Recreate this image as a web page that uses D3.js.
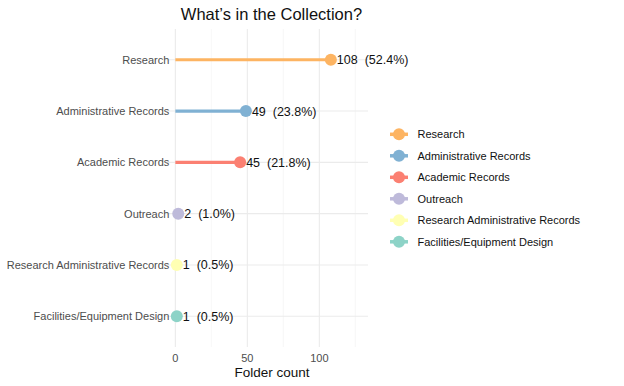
<!DOCTYPE html>
<html><head><meta charset="utf-8">
<script src="https://cdn.jsdelivr.net/npm/d3@7"></script>
<style>body{margin:0;background:#fff;} text{font-family:"Liberation Sans",Arial,sans-serif;}</style>
</head><body><svg id="c" width="624" height="386"></svg>
<script>
const categories = ["Research","Administrative Records","Academic Records","Outreach","Research Administrative Records","Facilities/Equipment Design"];
const counts = [108,49,45,2,1,1];
const percents = ["52.4%","23.8%","21.8%","1.0%","0.5%","0.5%"];
const colors = ["#FDB462","#80B1D3","#FB8072","#BEBADA","#FFFFB3","#8DD3C7"];
const xTicks = [0,50,100];
const xMinor = [25,75,125];

(function(){
const svg = d3.select("#c");
const pL = 166, pR = 368, pT = 29, pB = 347;
const x = d3.scaleLinear().domain([-6.5,133.8]).range([pL,pR]);
const y = d3.scalePoint().domain(categories).range([pT,pB]).padding(0.6);

// grid
const g = svg.append("g");
g.selectAll(".vmin").data(xMinor).join("line")
  .attr("x1",d=>x(d)).attr("x2",d=>x(d)).attr("y1",pT).attr("y2",pB)
  .attr("stroke","#f2f2f2").attr("stroke-width",0.6);
g.selectAll(".vmaj").data(xTicks).join("line")
  .attr("x1",d=>x(d)).attr("x2",d=>x(d)).attr("y1",pT).attr("y2",pB)
  .attr("stroke","#ebebeb").attr("stroke-width",1.1);
g.selectAll(".h").data(categories).join("line")
  .attr("x1",pL).attr("x2",pR).attr("y1",d=>y(d)).attr("y2",d=>y(d))
  .attr("stroke","#ebebeb").attr("stroke-width",1.1);

// segments
svg.selectAll(".seg").data(categories).join("line")
  .attr("x1",x(0)).attr("x2",(d,i)=>x(counts[i]))
  .attr("y1",d=>y(d)).attr("y2",d=>y(d))
  .attr("stroke",(d,i)=>colors[i]).attr("stroke-width",3.2);
svg.selectAll(".pt").data(categories).join("circle")
  .attr("cx",(d,i)=>x(counts[i])).attr("cy",d=>y(d)).attr("r",6)
  .attr("fill",(d,i)=>colors[i]);
svg.selectAll(".lab").data(categories).join("text")
  .attr("x",(d,i)=>x(counts[i])+6).attr("y",d=>y(d)).attr("dy","0.36em")
  .attr("font-size",12.5).attr("fill","#111")
  .attr("xml:space","preserve")
  .text((d,i)=>counts[i]+"  ("+percents[i]+")");

// y axis labels
svg.selectAll(".yl").data(categories).join("text")
  .attr("x",x(0)-6).attr("y",d=>y(d)).attr("dy","0.36em")
  .attr("text-anchor","end").attr("font-size",11).attr("fill","#4d4d4d")
  .text(d=>d);
// x axis labels
svg.selectAll(".xl").data(xTicks).join("text")
  .attr("x",d=>x(d)).attr("y",358).attr("dy","0.36em")
  .attr("text-anchor","middle").attr("font-size",11).attr("fill","#4d4d4d")
  .text(d=>d);
svg.append("text").attr("x",272).attr("y",377)
  .attr("text-anchor","middle").attr("font-size",13.5).attr("fill","#111").text("Folder count");
svg.append("text").attr("x",271.5).attr("y",19.5)
  .attr("text-anchor","middle").attr("font-size",16.5).attr("fill","#111").text("What’s in the Collection?");

// legend
const lg = svg.append("g").attr("transform","translate(399,134.3)");
const items = lg.selectAll("g").data(categories).join("g")
  .attr("transform",(d,i)=>`translate(0,${i*21.5})`);
items.append("line").attr("x1",-9).attr("x2",9).attr("stroke",(d,i)=>colors[i]).attr("stroke-width",3.5);
items.append("circle").attr("r",6).attr("fill",(d,i)=>colors[i]);
items.append("text").attr("x",18.5).attr("dy","0.36em").attr("font-size",11).attr("fill","#111").text(d=>d);
})();
</script></body></html>
